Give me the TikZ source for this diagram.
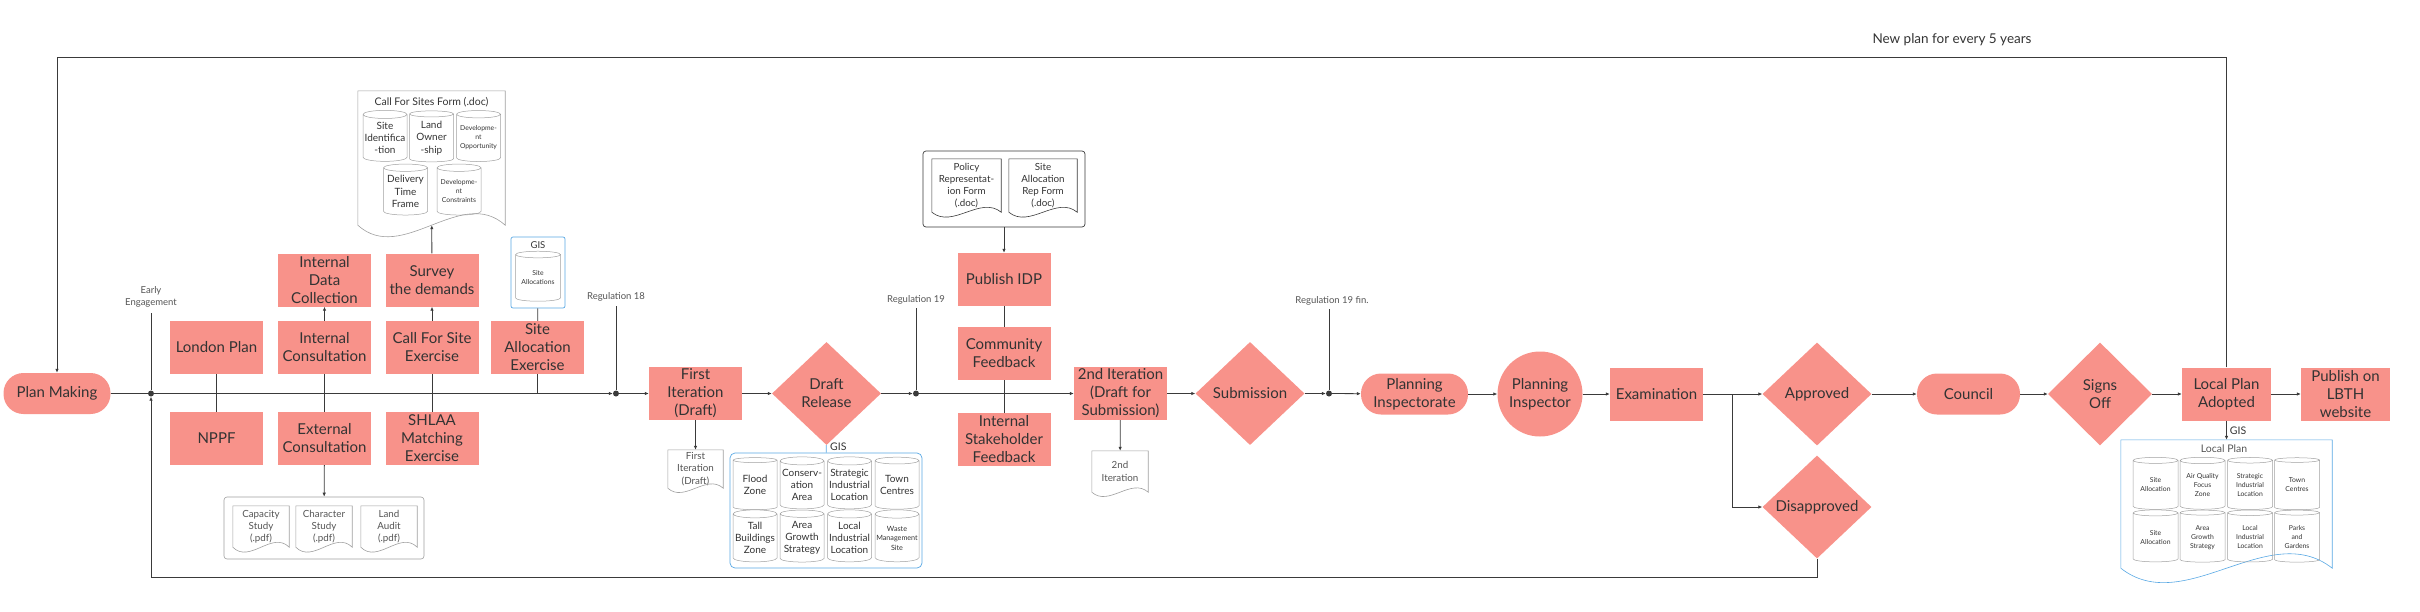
\documentclass[tikz,border=0pt]{standalone}
\usepackage{fontspec}
\setmainfont{Lato}
\usetikzlibrary{arrows.meta,shapes.geometric,calc,positioning}

\definecolor{salmon}{HTML}{F8928A}
\definecolor{ink}{HTML}{333333}
\definecolor{wire}{HTML}{3A3A3A}
\definecolor{gisblue}{HTML}{58A8E4}
\definecolor{framegray}{HTML}{A0A0A0}
\definecolor{notegray}{HTML}{555555}

% wavy bottom edge of a paper sheet: #1 colour, #2 node, #3 wave depth
\newcommand{\paperedge}[3][framegray]{%
  \draw[#1, line width=0.6pt] (#2.south west) -- (#2.north west) -- (#2.north east) -- (#2.south east)
    .. controls ($(#2.south east)!0.3!(#2.south west)+(0,#3pt)$) and ($(#2.south west)!0.3!(#2.south east)+(0,-#3pt)$) .. (#2.south west);}

\tikzset{
  stage/.style={rectangle, fill=salmon, minimum width=93pt, minimum height=53pt, inner sep=0pt,
    align=center, text=ink, font=\fontsize{15}{18}\selectfont},
  pill/.style={stage, rounded corners=20pt, minimum height=41pt, minimum width=107pt},
  gate/.style={diamond, fill=salmon, minimum width=109pt, minimum height=103pt, inner sep=0pt,
    align=center, text=ink, font=\fontsize{15}{18}\selectfont},
  ring/.style={circle, fill=salmon, minimum size=85pt, inner sep=0pt, align=center, text=ink,
    font=\fontsize{15}{18}\selectfont},
  hub/.style={circle, fill=wire, inner sep=0pt, minimum size=6pt},
  link/.style={draw=wire, line width=0.8pt},
  flow/.style={link, -{Latex[length=4pt,width=3.5pt]}},
  note/.style={text=notegray, align=center, font=\fontsize{9.5}{12.5}\selectfont},
  sheet/.style={rectangle, inner sep=0pt, align=center, text=notegray, font=\fontsize{9.8}{12.2}\selectfont},
  drum/.style={cylinder, shape border rotate=90, aspect=0.2, draw=framegray, line width=0.5pt,
    minimum width=44pt, minimum height=51pt, inner sep=0pt, align=center, text=ink,
    font=\fontsize{10}{12.2}\selectfont},
  tinydrum/.style={drum, font=\fontsize{6.8}{9}\selectfont},
  holder/.style={rectangle, rounded corners=3pt, inner sep=0pt},
}

\begin{document}
\begin{tikzpicture}[x=1pt, y=-1pt]
\useasboundingbox (0,0) rectangle (2420,611);

% main stages
\node[pill]  (plan)        at (57,393.5)    {Plan Making};
\node[stage] (london)      at (216.5,347.5) {London Plan};
\node[stage] (nppf)        at (216.5,438.5) {NPPF};
\node[stage] (intcon)      at (324.5,347.5) {Internal\\Consultation};
\node[stage] (intdata)     at (324.5,280)   {Internal\\Data\\Collection};
\node[stage] (extcon)      at (324.5,438.5) {External\\Consultation};
\node[stage] (callsite)    at (432,347.5)   {Call For Site\\Exercise};
\node[stage] (survey)      at (432,280)     {Survey\\the demands};
\node[stage] (shlaa)       at (432,438.5)   {SHLAA\\Matching\\Exercise};
\node[stage] (siteex)      at (537.5,347.5) {Site\\Allocation\\Exercise};
\node[stage] (first)       at (695.5,393.5) {First\\Iteration\\(Draft)};
\node[gate]  (draft)       at (826.5,393.5) {Draft\\Release};
\node[stage] (idp)         at (1004,279.5)  {Publish IDP};
\node[stage] (community)   at (1004,353.5)  {Community\\Feedback};
\node[stage] (stake)       at (1004,439.5)  {Internal\\Stakeholder\\Feedback};
\node[stage] (second)      at (1120.5,393.5) {2nd Iteration\\(Draft for\\Submission)};
\node[gate]  (submit)      at (1250,393.5)  {Submission};
\node[pill]  (inspectorate) at (1414.5,394) {Planning\\Inspectorate};
\node[ring]  (inspector)   at (1540,394)    {Planning\\Inspector};
\node[stage] (exam)        at (1656.5,394)  {Examination};
\node[gate]  (approved)    at (1817,394)    {Approved};
\node[gate]  (disapproved) at (1817,507)    {Disapproved};
\node[pill, minimum width=103pt] (council) at (1968.5,394) {Council};
\node[gate, minimum width=104pt] (signs)   at (2100,394)   {Signs\\Off};
\node[stage, minimum width=89pt] (adopted) at (2226.5,394) {Local Plan\\Adopted};
\node[stage, minimum width=89pt] (lbth)    at (2345.5,394) {Publish on\\LBTH\\website};

% junctions and milestones
\node[hub] (early)    at (151,393.5)  {};
\node[hub] (reg18)    at (616,393.5)  {};
\node[hub] (reg19)    at (916,393.5)  {};
\node[hub] (reg19fin) at (1329,393.5) {};
\node[note] (earlylbl)    at (151,297)  {Early\\Engagement};
\node[note] (reg18lbl)    at (616,297)  {Regulation 18};
\node[note] (reg19lbl)    at (916,300)  {Regulation 19};
\node[note] (reg19finlbl) at (1332,301) {Regulation 19 fin.};
\coordinate (earlytop)    at (151,313);
\coordinate (reg18top)    at (616,306);
\coordinate (reg19top)    at (916,308);
\coordinate (reg19fintop) at (1329,309);
\coordinate (siteexfoot)  at (537.5,393.5);
\coordinate (split)       at (1732,394);

% call for sites form
\node[holder, rounded corners=0pt, minimum width=147pt, minimum height=134pt] (cfsform) at (431.5,158) {};
\paperedge{cfsform}{40}
\node[sheet, text=ink, font=\fontsize{10.5}{12}\selectfont] (cfstitle) at (431.5,102) {Call For Sites Form (.doc)};
\node[drum] (siteid)   at (385,138)   {Site\\Identifica\\-tion};
\node[drum] (owner)    at (431.5,138) {Land\\Owner\\-ship};
\node[tinydrum] (devopp)  at (478.5,138) {Developme-\\nt\\Opportunity};
\node[drum] (delivery) at (405.5,191.5) {Delivery\\Time\\Frame};
\node[tinydrum] (devcon)  at (459,191.5)  {Developme-\\nt\\Constraints};

% studies
\node[holder, draw=framegray, line width=0.6pt, minimum width=200pt, minimum height=62pt] (pdfs) at (324,528) {};
\node[sheet, minimum width=56pt, minimum height=41pt] (capacity)  at (261,526.5) {Capacity\\Study\\(.pdf)};
\node[sheet, minimum width=56pt, minimum height=41pt] (character) at (324,526.5) {Character\\Study\\(.pdf)};
\node[sheet, minimum width=56pt, minimum height=41pt] (audit)     at (389,526.5) {Land\\Audit\\(.pdf)};
\paperedge{capacity}{17}
\paperedge{character}{17}
\paperedge{audit}{17}

% site allocations GIS
\node[holder, rounded corners=2pt, draw=gisblue, line width=0.7pt, minimum width=54pt, minimum height=71pt] (sitegis) at (538,272.5) {};
\node[sheet, text=ink, font=\fontsize{9.5}{11}\selectfont] (sitegislbl) at (538,245) {GIS};
\node[tinydrum, minimum height=50pt, minimum width=45pt] (siteallocs) at (538,278) {Site\\Allocations};

% draft layers
\node[holder, rounded corners=5pt, draw=gisblue, line width=0.7pt, minimum width=192pt, minimum height=115pt] (draftgis) at (826,510.5) {};
\node[sheet, text=ink, font=\fontsize{10.5}{12}\selectfont, anchor=west] (draftgislbl) at (830,447) {GIS};
\node[drum, minimum height=52pt] (flood)     at (755,485)   {Flood\\Zone};
\node[drum, minimum height=52pt] (conserv)   at (802,485)   {Conserv-\\ation\\Area};
\node[drum, minimum height=52pt] (strategic) at (849.5,485) {Strategic\\Industrial\\Location};
\node[drum, minimum height=52pt] (town)      at (897,485)   {Town\\Centres};
\node[drum, minimum height=52pt] (tall)      at (755,538)   {Tall\\Buildings\\Zone};
\node[drum, minimum height=52pt] (growth)    at (802,538)   {Area\\Growth\\Strategy};
\node[drum, minimum height=52pt] (localind)  at (849.5,538) {Local\\Industrial\\Location};
\node[tinydrum, minimum height=52pt, font=\fontsize{7.2}{9.5}\selectfont] (waste) at (897,538) {Waste\\Management\\Site};

% iteration outputs
\node[sheet, minimum width=55pt, minimum height=38pt] (firstdoc)  at (695.5,469) {First\\Iteration\\(Draft)};
\node[sheet, minimum width=56pt, minimum height=41pt] (seconddoc) at (1120,471.5) {2nd\\Iteration};
\paperedge{firstdoc}{15}
\paperedge{seconddoc}{15}

% representation forms
\node[holder, draw=wire, line width=0.7pt, minimum width=162pt, minimum height=76pt] (idpdocs) at (1004,189) {};
\node[sheet, text=ink, minimum width=69pt, minimum height=53pt] (policyform) at (966.5,185.5) {Policy\\Representat-\\ion Form\\(.doc)};
\node[sheet, text=ink, minimum width=68pt, minimum height=53pt] (repform)    at (1043,185.5)  {Site\\Allocation\\Rep Form\\(.doc)};
\paperedge[wire]{policyform}{17}
\paperedge[wire]{repform}{17}

% adopted local plan layers
\node[holder, rounded corners=0pt, minimum width=211pt, minimum height=128pt] (localplan) at (2226.5,504) {};
\paperedge[gisblue]{localplan}{50}
\node[sheet, text=notegray, font=\fontsize{10.5}{12}\selectfont] (localplanlbl) at (2224,449) {Local Plan};
\node[tinydrum, minimum height=52pt, minimum width=45pt] (lpsite)     at (2155.5,485)   {Site\\Allocation};
\node[tinydrum, minimum height=52pt, minimum width=45pt] (lpair)      at (2202.5,485)   {Air Quality\\Focus\\Zone};
\node[tinydrum, minimum height=52pt, minimum width=45pt] (lpstrat)    at (2250,485)     {Strategic\\Industrial\\Location};
\node[tinydrum, minimum height=52pt, minimum width=45pt] (lptown)     at (2297,485)     {Town\\Centres};
\node[tinydrum, minimum height=52pt, minimum width=45pt] (lpsitetwo)  at (2155.5,537.5) {Site\\Allocation};
\node[tinydrum, minimum height=52pt, minimum width=45pt] (lpgrowth)   at (2202.5,537.5) {Area\\Growth\\Strategy};
\node[tinydrum, minimum height=52pt, minimum width=45pt] (lplocal)    at (2250,537.5)   {Local\\Industrial\\Location};
\node[tinydrum, minimum height=52pt, minimum width=45pt] (lpparks)    at (2297,537.5)   {Parks\\and\\Gardens};

% loops
\node[note, text=ink, font=\fontsize{13.5}{15}\selectfont] (everyfive) at (1952,40) {New plan for every 5 years};
\coordinate (loopne) at (2226.5,57);
\coordinate (loopnw) at (57,57);
\coordinate (loopse) at (1817,577);
\coordinate (loopsw) at (151,577);

% connectors
\draw[link] (plan) -- (early);
\draw[link] (earlytop) -- (early);
\draw[flow] (early) -- (reg18);
\draw[link] (london) -- (nppf);
\draw[flow] (intcon) -- (intdata);
\draw[link] (intcon) -- (extcon);
\draw[flow] (extcon) -- (pdfs);
\draw[flow] (callsite) -- (survey);
\draw[link] (callsite) -- (shlaa);
\draw[flow] (survey) -- (cfsform);
\draw[link] (sitegis) -- (siteex);
\draw[link] (siteex) -- (siteexfoot);
\draw[link] (reg18top) -- (reg18);
\draw[flow] (reg18) -- (first);
\draw[flow] (first) -- (firstdoc);
\draw[flow] (first) -- (draft);
\draw[link, draw=gisblue] (draft) -- (draftgis);
\draw[flow] (draft) -- (reg19);
\draw[link] (reg19top) -- (reg19);
\draw[flow] (idpdocs) -- (idp);
\draw[link] (idp) -- (community);
\draw[link] (community) -- (stake);
\draw[flow] (reg19) -- (second);
\draw[flow] (second) -- (seconddoc);
\draw[flow] (second) -- (submit);
\draw[flow] (submit) -- (reg19fin);
\draw[link] (reg19fintop) -- (reg19fin);
\draw[flow] (reg19fin) -- (inspectorate);
\draw[flow] (inspectorate) -- (inspector);
\draw[flow] (inspector) -- (exam);
\draw[link] (exam) -- (split);
\draw[flow] (split) -- (approved);
\draw[flow] (split) |- (disapproved);
\draw[flow] (approved) -- (council);
\draw[flow] (council) -- (signs);
\draw[flow] (signs) -- (adopted);
\draw[flow] (adopted) -- (lbth);
\draw[flow] (adopted) -- node[right, sheet, text=ink, font=\fontsize{10.5}{12}\selectfont, xshift=3pt] {GIS} (localplan);
\draw[flow] (adopted) -- (loopne) -- (loopnw) -- (plan);
\draw[flow] (disapproved) -- (loopse) -- (loopsw) -- (early);
\end{tikzpicture}
\end{document}
